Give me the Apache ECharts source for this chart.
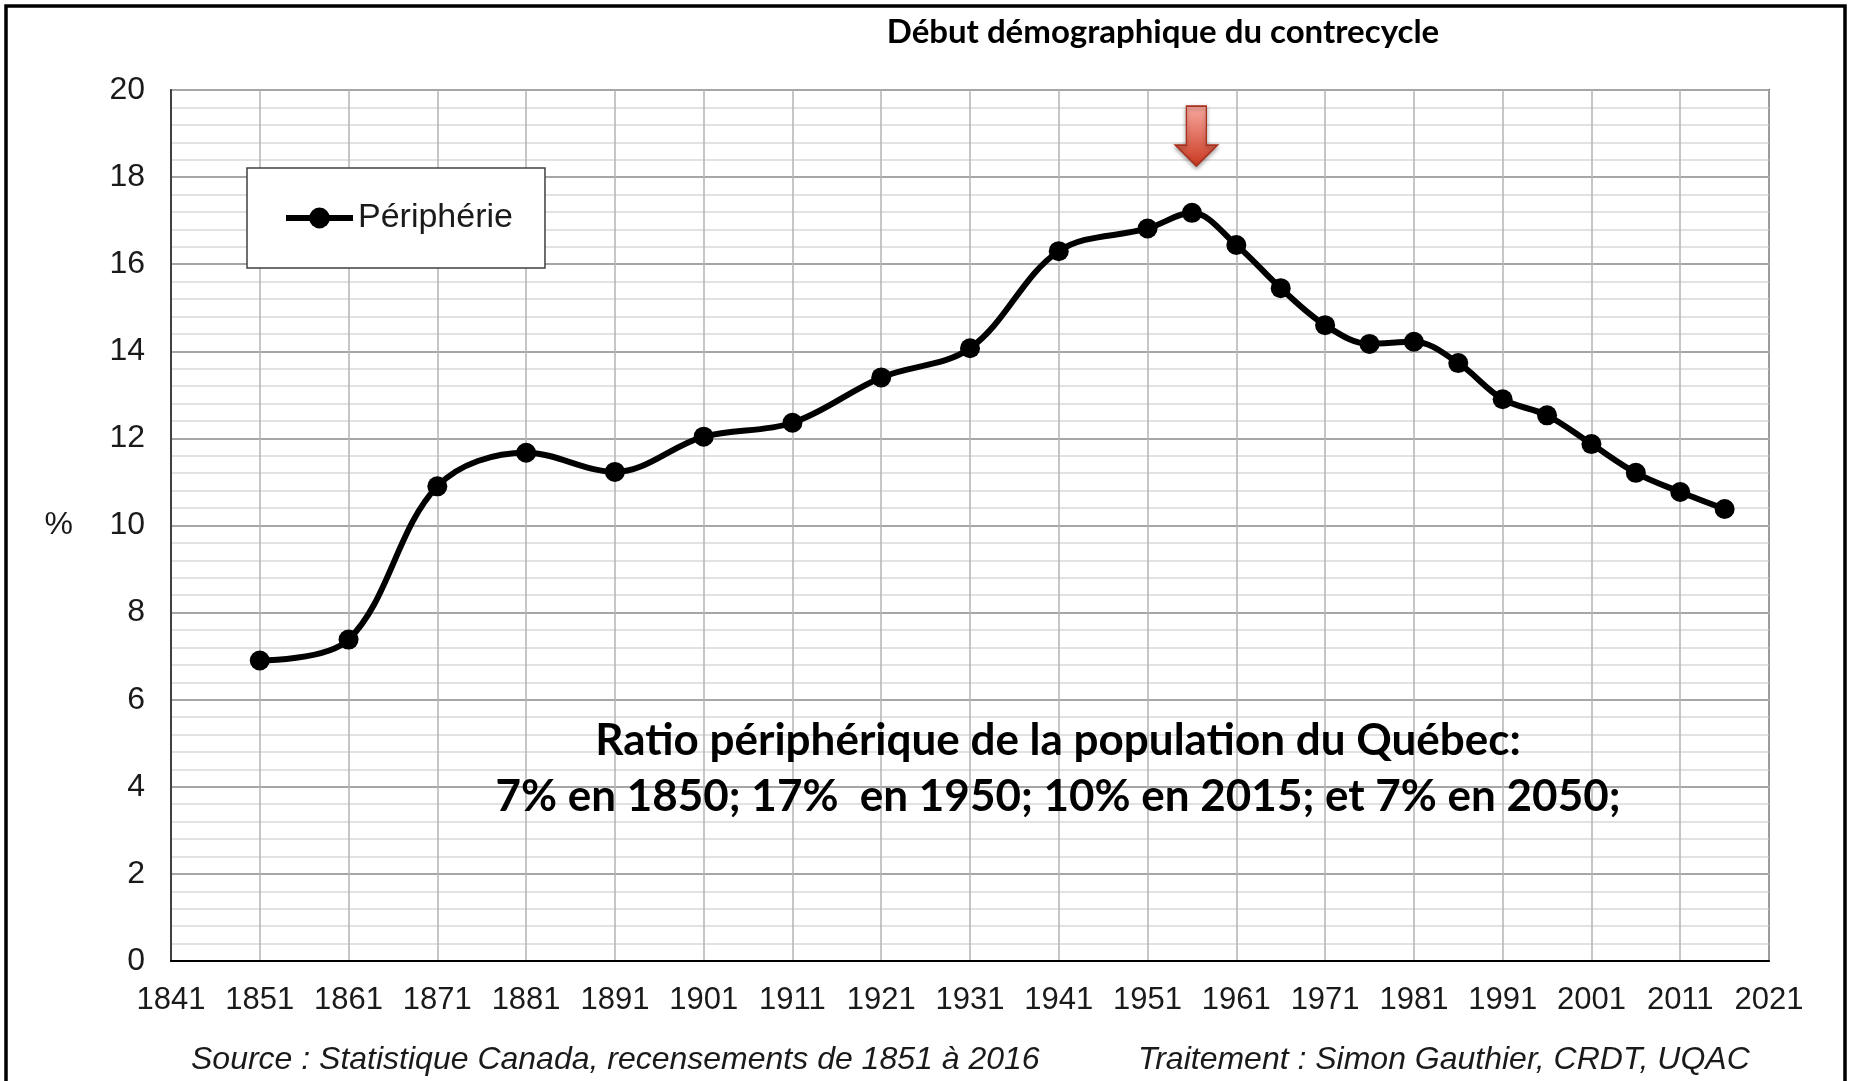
<!DOCTYPE html>
<html>
<head>
<meta charset="utf-8">
<title>Ratio périphérique de la population du Québec</title>
<script src="https://cdn.jsdelivr.net/npm/echarts@6/dist/echarts.min.js"></script>
<style>
    html, body { margin: 0; padding: 0; background: #fff; }
    #chart { width: 1850px; height: 1081px; }
</style>
</head>
<body>
<div id="chart"></div>
<script>
// recensements (années) et ratio périphérique en %
var annees = [1851, 1861, 1871, 1881, 1891, 1901, 1911, 1921, 1931, 1941, 1951, 1956,
              1961, 1966, 1971, 1976, 1981, 1986, 1991, 1996, 2001, 2006, 2011, 2016];
var peripherie = [6.9, 7.38, 10.9, 11.67, 11.23, 12.04, 12.36, 13.4, 14.07, 16.3, 16.82, 17.18,
                  16.44, 15.45, 14.6, 14.17, 14.22, 13.73, 12.9, 12.53, 11.87, 11.21, 10.77, 10.38];
var nomSerie = 'Périphérie';

// axes
var axeX = [1841, 2021, 10];   // min, max, pas
var axeY = [0, 20, 2];

// flèche : début du contrecycle
var flecheAnnee = 1956.5;
var flecheValeur = 18.94;

var titre = 'Début démographique du contrecycle';
var note = ['Ratio périphérique de la population du Québec:',
            '7% en 1850; 17%  en 1950; 10% en 2015; et 7% en 2050;'];
var source = 'Source : Statistique Canada, recensements de 1851 à 2016';
var traitement = 'Traitement : Simon Gauthier, CRDT, UQAC';

var points = annees.map(function (a, i) { return [a, peripherie[i]]; });

var myChart = echarts.init(document.getElementById('chart'));
var txt = '#1a1a1a';

var option = {
    animation: false,
    backgroundColor: '#fff',
    grid: {
        left: 171, right: 81, top: 90, bottom: 120,
        show: true, borderColor: '#595959', borderWidth: 2
    },
    legend: {
        left: 247, top: 168,
        padding: [31, 32, 31, 36],
        backgroundColor: '#fff',
        borderColor: '#404040', borderWidth: 1.5,
        itemWidth: 67, itemHeight: 26,
        lineStyle: { width: 6 },
        textStyle: { fontFamily: 'Liberation Sans', fontSize: 34, lineHeight: 38, color: txt },
        data: [nomSerie]
    },
    xAxis: {
        type: 'value',
        min: axeX[0], max: axeX[1], interval: axeX[2],
        axisLine: { lineStyle: { color: '#000', width: 2 } },
        axisTick: { show: false },
        axisLabel: {
            margin: 24, fontFamily: 'Liberation Sans', fontSize: 31, color: txt,
            formatter: function (v) { return String(v); }
        },
        splitLine: { lineStyle: { color: '#b3b3b3', width: 1.5 } }
    },
    yAxis: {
        type: 'value',
        min: axeY[0], max: axeY[1], interval: axeY[2],
        name: '%', nameLocation: 'middle', nameRotate: 0, nameGap: 98,
        nameTextStyle: { fontFamily: 'Liberation Sans', fontSize: 32, color: txt },
        axisLine: { show: true, lineStyle: { color: '#404040', width: 2 } },
        axisTick: { show: false },
        axisLabel: { margin: 26, fontFamily: 'Liberation Sans', fontSize: 32, color: txt },
        splitLine: { lineStyle: { color: '#a6a6a6', width: 2 } },
        minorTick: { show: false, splitNumber: 5 },
        minorSplitLine: { show: true, lineStyle: { color: '#d9d9d9', width: 1.5 } }
    },
    series: [{
        name: nomSerie,
        type: 'line',
        data: points,
        smooth: 0.35,
        symbol: 'circle',
        symbolSize: 20,
        lineStyle: { color: '#000', width: 6 },
        itemStyle: { color: '#000' },
        markPoint: {
            silent: true,
            symbol: 'path://M11,0 L31,0 L31,39 L42,39 L21,60 L0,39 L11,39 Z',
            symbolSize: [42, 60],
            label: { show: false },
            itemStyle: {
                color: new echarts.graphic.LinearGradient(0, 0, 0, 1, [
                    { offset: 0, color: '#f8aaa1' },
                    { offset: 1, color: '#c9381f' }
                ]),
                borderColor: '#a8301c', borderWidth: 1.5,
                shadowBlur: 4, shadowColor: 'rgba(0,0,0,0.35)', shadowOffsetY: 2
            },
            data: [{ coord: [flecheAnnee, flecheValeur] }]
        }
    }],
    graphic: [
        { type: 'text', x: 1163, y: 32, style: { text: titre, fontFamily: 'Lato', fontWeight: 'bold', fontSize: 33, fill: '#000', align: 'center', verticalAlign: 'middle' } },
        { type: 'text', x: 1058, y: 741, z: 10, style: { text: note[0], fontFamily: 'Lato', fontWeight: 'bold', fontSize: 44, fill: '#000', align: 'center', verticalAlign: 'middle' } },
        { type: 'text', x: 1058, y: 797, z: 10, style: { text: note[1], fontFamily: 'Lato', fontWeight: 'bold', fontSize: 44, fill: '#000', align: 'center', verticalAlign: 'middle' } },
        { type: 'text', x: 191, y: 1060, style: { text: source, fontFamily: 'Liberation Sans', fontStyle: 'italic', fontSize: 32, fill: txt, align: 'left', verticalAlign: 'middle' } },
        { type: 'text', x: 1138, y: 1060, style: { text: traitement, fontFamily: 'Liberation Sans', fontStyle: 'italic', fontSize: 32, fill: txt, align: 'left', verticalAlign: 'middle' } },
        { type: 'rect', z: 100, shape: { x: 6, y: 6, width: 1839, height: 1100 }, style: { fill: null, stroke: '#000', lineWidth: 3.5 } }
    ]
};
myChart.setOption(option);
</script>
</body>
</html>
